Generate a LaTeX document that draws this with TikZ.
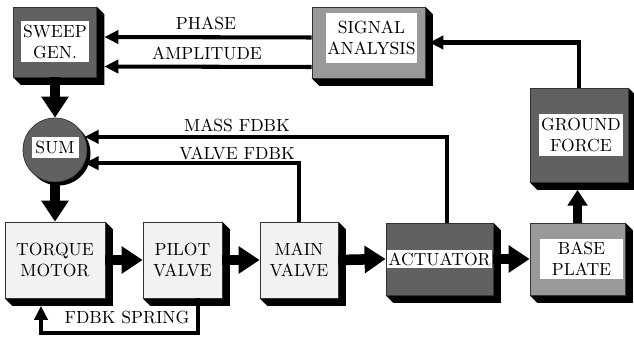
\documentclass[tikz,border=0pt]{standalone}
\usetikzlibrary{arrows.meta, positioning, backgrounds, calc}

\begin{document}
\begin{tikzpicture}[
    font=\fontsize{10}{12}\selectfont,
    box/.style={
        rectangle, draw=black!80, thin, align=center,
        inner sep=1pt
    },
    lightbox/.style={box, fill=black!5},
    darkbox/.style={box, fill=black!62},
    midbox/.style={box, fill=black!40},
    tag/.style={
        rectangle, fill=white, align=center, inner sep=1pt
    },
    lbl/.style={inner sep=1pt},
    bigarr/.style={-{Triangle[length=12pt, width=15pt]}, line width=6pt},
    midarr/.style={-{Triangle[length=9pt, width=11pt]}, line width=5pt},
    thinarr/.style={-{Triangle[length=8pt, width=7.5pt]}, line width=2.3pt}
]
\useasboundingbox (0,0) rectangle (12.68,6.76);

% Generator and analysis row
\node[darkbox, minimum width=1.66cm, minimum height=1.40cm] (sweep)
    at (1.10, 5.92) {};
\node[tag, minimum width=1.36cm, minimum height=0.82cm] (sweeptxt)
    at (sweep) {SWEEP\\GEN.};
\node[midbox, minimum width=2.26cm, minimum height=1.42cm] (signal)
    at (7.37, 5.91) {};
\node[tag, minimum width=1.74cm, minimum height=1.0cm] (signaltxt)
    at ([shift={(0.06,0.09)}]signal.center) {SIGNAL\\ANALYSIS};
\node[darkbox, minimum width=1.96cm, minimum height=1.88cm] (ground)
    at (11.58, 4.06) {};
\node[tag, minimum width=1.68cm, minimum height=0.84cm] (groundtxt)
    at ([xshift=0.04cm]ground.center) {GROUND\\FORCE};

% Summing junction
\node[circle, draw=black!80, thin, fill=black!62, minimum size=1.28cm] (sum)
    at (1.10, 3.76) {};
\node[tag, minimum width=0.94cm, minimum height=0.42cm] (sumtxt)
    at ([yshift=0.05cm]sum.center) {SUM};

% Servo chain
\node[lightbox, minimum width=2.00cm, minimum height=1.52cm] (torque)
    at (1.10, 1.56) {TORQUE\\MOTOR};
\node[lightbox, minimum width=1.58cm, minimum height=1.52cm] (pilot)
    at (3.65, 1.56) {PILOT\\VALVE};
\node[lightbox, minimum width=1.56cm, minimum height=1.52cm] (main)
    at (5.98, 1.56) {MAIN\\VALVE};
\node[darkbox, minimum width=2.14cm, minimum height=1.44cm] (act)
    at (8.79, 1.58) {};
\node[tag, minimum width=2.0cm, minimum height=0.36cm] (acttxt)
    at (act) {ACTUATOR};
\node[midbox, minimum width=1.90cm, minimum height=1.44cm] (base)
    at (11.55, 1.58) {};
\node[tag, minimum width=1.66cm, minimum height=0.80cm] (basetxt)
    at ([xshift=0.08cm]base.center) {BASE\\PLATE};

% Extruded edges behind every block
\begin{scope}[on background layer]
\foreach \n in {sweep, signal, ground, torque, pilot, main, act, base}
    \fill[black] (\n.north east) -- ++(0.15,-0.15)
        -- ([shift={(0.15,-0.15)}]\n.south east)
        -- ([shift={(0.15,-0.15)}]\n.south west)
        -- (\n.south west) -- cycle;
\fill[black] ([shift={(0.07,-0.07)}]sum.center) circle (0.64);
\end{scope}

% Signal labels
\node[lbl] (phase) at (4.12, 6.30) {PHASE};
\node[lbl] (ampl) at (4.14, 5.70) {AMPLITUDE};
\node[lbl] (massfb) at (4.74, 4.26) {MASS FDBK};
\node[lbl] (valvefb) at (4.74, 3.70) {VALVE FDBK};
\node[lbl] (spring) at (2.54, 0.42) {FDBK SPRING};

% Forward path
\draw[bigarr] (sweep.south) -- (sum.north);
\draw[bigarr] (sum.south) -- (torque.north);
\draw[bigarr] (torque.east) -- (pilot.west);
\draw[bigarr] (pilot.east) -- (main.west);
\draw[bigarr] (main.east) -- (act.west);
\draw[bigarr] (act.east) -- (base.west);

% Measured force goes back to the analyser
\coordinate (gfoot) at ([yshift=-0.15cm]ground.south);
\draw[midarr] (base.north) -- (base.north |- gfoot);
\draw[thinarr] (ground.north) |- ([xshift=0.08cm]signal.east);
\draw[thinarr] ([yshift=0.10cm]signal.west)
    -- ([shift={(0.15cm,0.10cm)}]sweep.east);
\draw[thinarr] ([yshift=-0.49cm]signal.west)
    -- ([shift={(0.15cm,-0.49cm)}]sweep.east);

% Inner feedback loops
\draw[thinarr] ([xshift=0.15cm]act.north) |- (sum.24);
\draw[thinarr] (main.north) |- (sum.-24);
\draw[thinarr] ([xshift=0.31cm]pilot.south) -- ++(0,-0.70)
    -| ([shift={(-0.28cm,-0.15cm)}]torque.south);

\end{tikzpicture}
\end{document}
